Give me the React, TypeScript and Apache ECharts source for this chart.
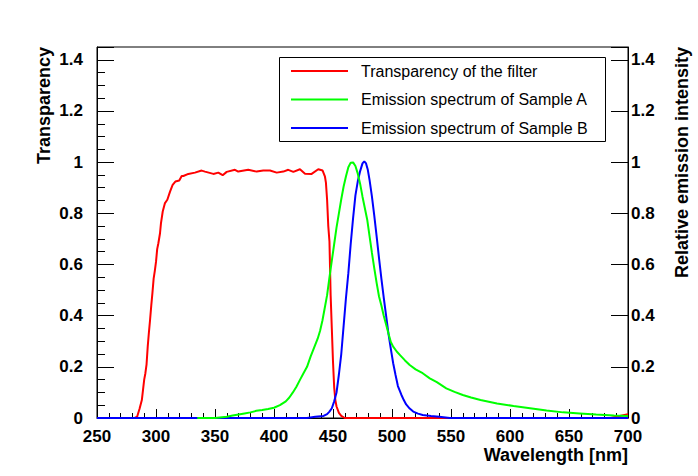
import React, { useEffect, useRef } from "react";
import * as echarts from "echarts";

// Transparency of the filter
const redX = [250, 280, 282, 284, 286, 288, 289, 290, 291, 292, 293, 294, 295, 296, 297, 298, 299, 300, 301, 302, 303.4, 304.2, 305.7, 307.6, 309.6, 311.9, 314.1, 316.4, 319.7, 321.8, 323.2, 327.4, 333, 338.7, 341.5, 348.6, 352.8, 356.5, 359.9, 366.9, 369.7, 378.2, 385.3, 390.9, 396.6, 402.3, 407.9, 412.1, 416.4, 422, 426.3, 431.9, 437.5, 441.2, 443.2, 444, 445, 446, 447, 448, 449, 450, 451, 452, 453, 455, 457, 460, 685, 690, 695, 700];
const redY = [0, 0, 0, 0.005, 0.035, 0.07, 0.11, 0.15, 0.175, 0.21, 0.28, 0.335, 0.385, 0.44, 0.49, 0.545, 0.575, 0.61, 0.66, 0.683, 0.722, 0.761, 0.807, 0.84, 0.853, 0.885, 0.911, 0.924, 0.928, 0.946, 0.946, 0.954, 0.959, 0.967, 0.963, 0.954, 0.959, 0.949, 0.962, 0.97, 0.963, 0.97, 0.963, 0.967, 0.967, 0.959, 0.963, 0.97, 0.962, 0.972, 0.955, 0.954, 0.972, 0.967, 0.943, 0.92, 0.853, 0.75, 0.69, 0.48, 0.35, 0.22, 0.12, 0.07, 0.045, 0.02, 0.008, 0, 0, 0.005, 0.01, 0.015];

// Emission spectrum of Sample A
const greenX = [335, 350, 360, 365, 370, 375, 380, 385, 390, 395, 400, 405, 410, 413, 416, 419, 422, 425, 428, 431, 434, 437, 439, 441, 443, 445, 447, 449, 451, 453, 455, 457, 459, 461, 463, 465, 467, 469, 471, 473, 475, 477, 479, 481, 483, 485, 487, 489, 491, 493, 495, 497, 499, 501, 504, 507, 511, 515, 520, 526, 532, 538, 546, 553, 560, 567, 575, 589, 603, 617, 631, 645, 659, 673, 688, 700];
const greenY = [0, 0, 0.005, 0.01, 0.014, 0.018, 0.022, 0.028, 0.031, 0.035, 0.04, 0.05, 0.065, 0.08, 0.1, 0.122, 0.149, 0.175, 0.2, 0.24, 0.275, 0.31, 0.34, 0.38, 0.43, 0.48, 0.55, 0.615, 0.68, 0.745, 0.8, 0.855, 0.905, 0.945, 0.98, 0.998, 0.999, 0.985, 0.955, 0.915, 0.865, 0.82, 0.775, 0.71, 0.645, 0.585, 0.527, 0.475, 0.44, 0.4, 0.365, 0.33, 0.297, 0.279, 0.26, 0.245, 0.225, 0.207, 0.19, 0.175, 0.155, 0.14, 0.116, 0.102, 0.09, 0.08, 0.07, 0.057, 0.047, 0.038, 0.029, 0.022, 0.018, 0.014, 0.01, 0.008];

// Emission spectrum of Sample B
const blueX = [250, 428, 435, 442, 445, 447, 449, 451, 453, 455, 457, 459, 461, 463, 465, 467, 469, 471, 473, 475, 476.5, 478, 479.5, 481, 483, 485, 487, 489, 491, 493, 495, 497, 499, 501, 503, 505, 508, 510, 512, 515, 518, 522, 526, 533, 540, 549, 700];
const blueY = [0, 0, 0.005, 0.008, 0.015, 0.025, 0.038, 0.065, 0.1, 0.17, 0.25, 0.36, 0.47, 0.566, 0.68, 0.78, 0.87, 0.925, 0.965, 0.995, 1.003, 0.995, 0.97, 0.93, 0.865, 0.79, 0.709, 0.625, 0.545, 0.47, 0.4, 0.33, 0.27, 0.214, 0.168, 0.125, 0.09, 0.07, 0.053, 0.037, 0.025, 0.017, 0.012, 0.008, 0.005, 0, 0];

const seriesNames = ["Transparency of the filter", "Emission spectrum of Sample A", "Emission spectrum of Sample B"];
const xTitle = "Wavelength [nm]";
const yLeftTitle = "Transparency";
const yRightTitle = "Relative emission intensity";

const FONT = "'Liberation Sans', Arial, Helvetica, sans-serif";

const zip = (xs: number[], ys: number[]) => xs.map((x, i) => [x, ys[i]]);

const yLabel = (v: number) => {
  const r = Math.round(v / 0.2) * 0.2;
  return Math.abs(v - r) < 1e-6 ? String(+v.toFixed(1)) : "";
};

export default function App() {
  const ref = useRef<HTMLDivElement>(null);
  useEffect(() => {
    if (!ref.current) return;
    const chart = echarts.init(ref.current, undefined, { renderer: "svg" });
    const labelStyle = { color: "#000", fontFamily: FONT, fontWeight: "bold" as const, fontSize: 17 };
    chart.setOption({
      animation: false,
      backgroundColor: "#fff",
      grid: { left: 97, right: 70, top: 47, bottom: 58, show: true, borderColor: "#000", borderWidth: 1, backgroundColor: "transparent" },
      xAxis: {
        type: "value",
        min: 250,
        max: 700,
        interval: 50,
        axisLine: { show: true, onZero: false, lineStyle: { color: "#000", width: 1 } },
        axisTick: { show: true, inside: true, length: 9, lineStyle: { color: "#000" } },
        minorTick: { show: true, splitNumber: 5, length: 5, lineStyle: { color: "#000" } },
        axisLabel: { ...labelStyle, margin: 10 },
        splitLine: { show: false },
      },
      yAxis: [
        {
          type: "value",
          position: "left",
          min: 0,
          max: 1.45,
          interval: 0.2,
          axisLine: { show: true, onZero: false, lineStyle: { color: "#000" } },
          axisTick: { show: true, inside: true, length: 17, lineStyle: { color: "#000" } },
          axisLabel: { ...labelStyle, margin: 14, formatter: yLabel, showMaxLabel: true },
          splitLine: { show: false },
        },
        {
          type: "value",
          position: "right",
          min: 0,
          max: 1.45,
          interval: 0.2,
          axisLine: { show: true, onZero: false, lineStyle: { color: "#000" } },
          axisTick: { show: true, inside: true, length: 17, lineStyle: { color: "#000" } },
          axisLabel: { ...labelStyle, margin: 3, formatter: yLabel },
          splitLine: { show: false },
        },
        {
          type: "value",
          position: "left",
          min: 0,
          max: 1.45,
          interval: 0.05,
          axisLine: { show: false },
          axisTick: { show: true, inside: true, length: 8, lineStyle: { color: "#000" } },
          axisLabel: { show: false },
          splitLine: { show: false },
        },
      ],
      legend: {
        data: seriesNames,
        orient: "vertical",
        left: 291,
        top: 61,
        padding: 0,
        itemWidth: 57,
        itemHeight: 2,
        itemGap: 8.5,
        icon: "rect",
        selectedMode: false,
        textStyle: { color: "#000", fontFamily: FONT, fontSize: 16, lineHeight: 20, padding: [0, 0, 0, 8] },
      },
      graphic: [
        { type: "rect", z: 3, shape: { x: 279.5, y: 57.5, width: 326, height: 84 }, style: { fill: "#fff", stroke: "#000", lineWidth: 1 } },
        { type: "text", x: 628, y: 455, style: { text: xTitle, fill: "#000", fontFamily: FONT, fontWeight: "bold", fontSize: 18, align: "right", verticalAlign: "middle" } },
        { type: "text", x: 44, y: 47, rotation: Math.PI / 2, style: { text: yLeftTitle, fill: "#000", fontFamily: FONT, fontWeight: "bold", fontSize: 18, align: "right", verticalAlign: "middle" } },
        { type: "text", x: 682, y: 47, rotation: Math.PI / 2, style: { text: yRightTitle, fill: "#000", fontFamily: FONT, fontWeight: "bold", fontSize: 18, align: "right", verticalAlign: "middle" } },
      ],
      series: [
        { name: seriesNames[0], type: "line", yAxisIndex: 0, data: zip(redX, redY), showSymbol: false, clip: false, color: "#ff0000", lineStyle: { width: 2, color: "#ff0000" } },
        { name: seriesNames[2], type: "line", yAxisIndex: 1, data: zip(blueX, blueY), showSymbol: false, clip: false, color: "#0000ff", lineStyle: { width: 2, color: "#0000ff" } },
        { name: seriesNames[1], type: "line", yAxisIndex: 1, data: zip(greenX, greenY), showSymbol: false, clip: false, color: "#00ff00", lineStyle: { width: 2, color: "#00ff00" } },
      ],
    });
    return () => chart.dispose();
  }, []);
  return <div ref={ref} style={{ position: "absolute", left: 0, top: 0, width: 698, height: 476 }} />;
}
